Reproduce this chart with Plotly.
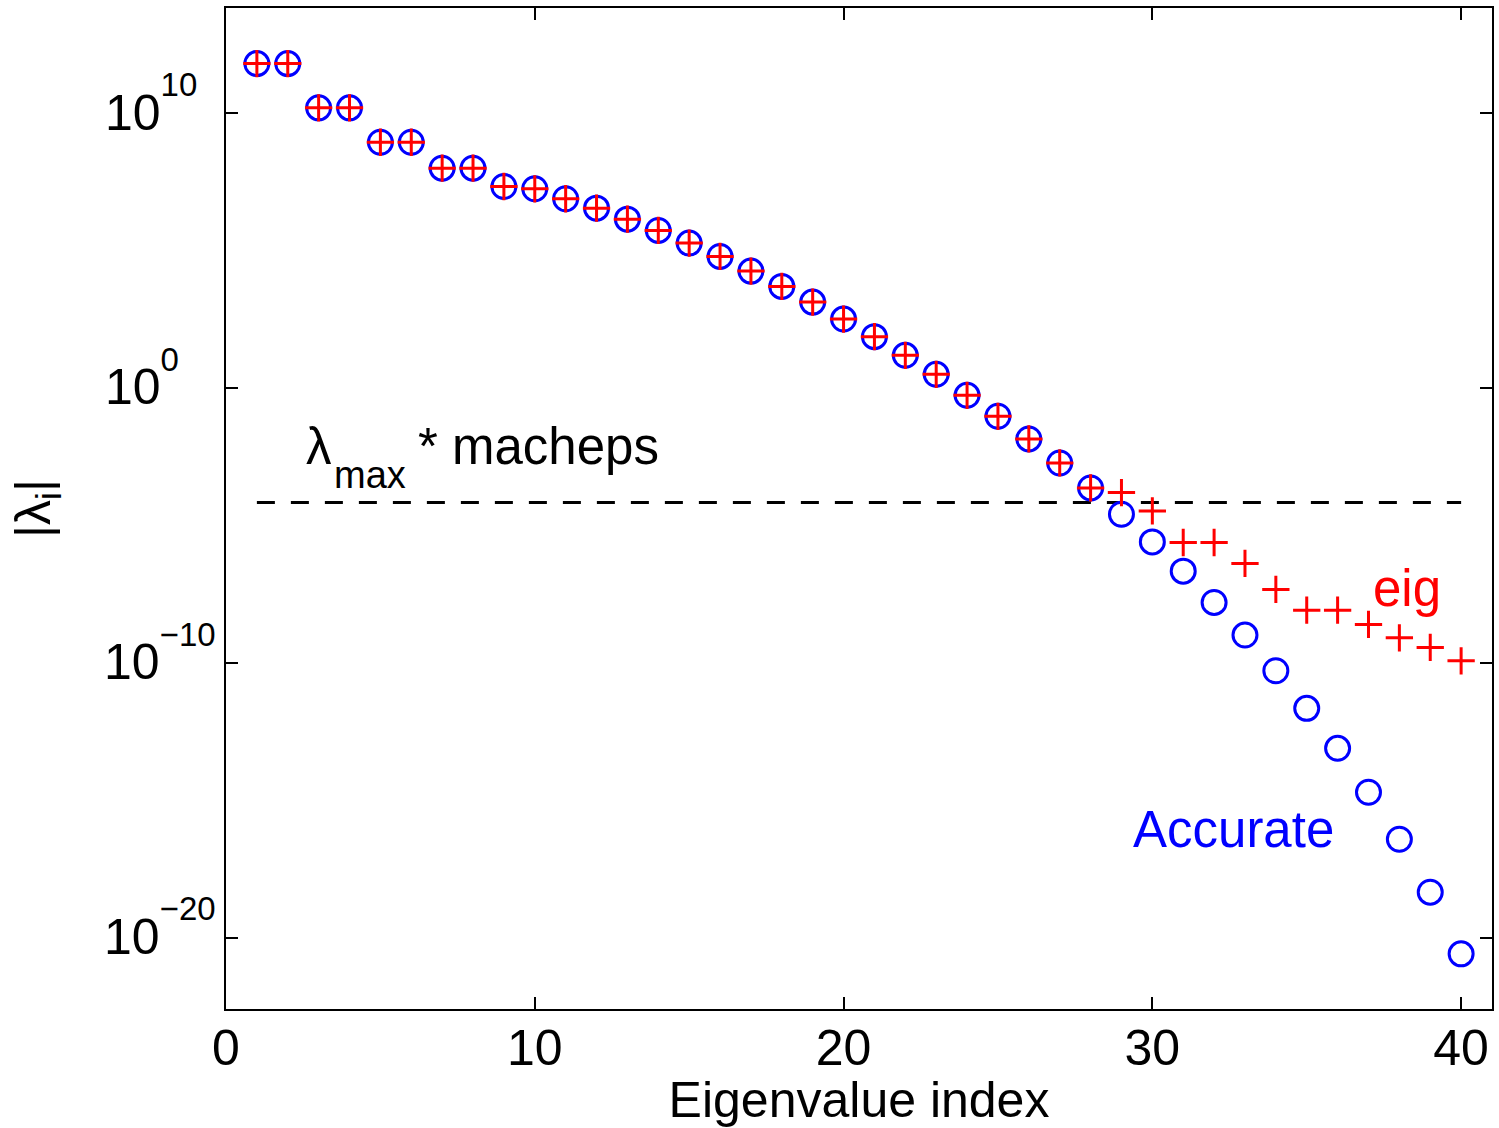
import plotly.graph_objects as go

index = list(range(1, 41))

accurate = [6.41e11, 6.41e11, 1.57e10, 1.57e10, 8.81e8, 8.81e8, 1.0e8, 1.0e8,
            2.16e7, 1.78e7, 7.71e6, 3.51e6, 1.40e6, 5.43e5, 1.88e5, 6.15e4,
            1.80e4, 4.99e3, 1.34e3, 323, 74.0, 15.5, 3.15, 0.543,
            9.35e-2, 1.40e-2, 1.87e-3, 2.31e-4, 2.55e-5, 2.51e-6, 2.16e-7, 1.57e-8,
            1.02e-9, 5.12e-11, 2.20e-12, 7.71e-14, 1.94e-15, 3.78e-17, 4.48e-19, 2.55e-21]

eig = [6.41e11, 6.41e11, 1.57e10, 1.57e10, 8.81e8, 8.81e8, 1.0e8, 1.0e8,
       2.16e7, 1.78e7, 7.71e6, 3.51e6, 1.40e6, 5.43e5, 1.88e5, 6.15e4,
       1.80e4, 4.99e3, 1.34e3, 323, 74.0, 15.5, 3.15, 0.543,
       9.35e-2, 1.40e-2, 1.87e-3, 2.31e-4, 1.57e-4, 3.37e-5, 2.39e-6, 2.39e-6,
       4.12e-7, 4.67e-8, 8.24e-9, 8.24e-9, 2.49e-9, 8.11e-10, 3.63e-10, 1.18e-10]

threshold_x = [1, 40]
threshold_y = [6.81e-5, 6.81e-5]

xtick_vals = [0, 10, 20, 30, 40]
ytick_vals = [1e-20, 1e-10, 1, 1e10]
ytick_exps = ["\u221220", "\u221210", "0", "10"]

FONT = "Liberation Sans, Arial, Helvetica, sans-serif"
FS = 50


def pow_label(e):
    # pad shorter exponents with figure spaces so the "10" bases line up (left-aligned look)
    pad = "\u2007" * (3 - len(e))
    return ("<span style='font-size:50px'>10</span>"
            "<sup><sup><span style='font-size:33px'>" + e + pad + "</span></sup></sup>")


ytick_text = [pow_label(e) for e in ytick_exps]

fig = go.Figure()

fig.add_trace(go.Scatter(
    x=threshold_x, y=threshold_y, mode="lines",
    line=dict(color="black", width=3, dash="18px,16px"),
    showlegend=False, hoverinfo="skip"))

fig.add_trace(go.Scatter(
    x=index, y=accurate, mode="markers", name="Accurate",
    marker=dict(symbol="circle-open", size=24, color="#0000FF",
                line=dict(color="#0000FF", width=3)),
    showlegend=False))

fig.add_trace(go.Scatter(
    x=index, y=eig, mode="markers", name="eig",
    marker=dict(symbol="cross-thin-open", size=19.5, color="#FF0000",
                line=dict(color="#FF0000", width=3)),
    showlegend=False))

# lambda_max * macheps label (subscript drawn lower, as in the original)
fig.add_annotation(x=3.0, y=-2.12, xref="x", yref="y", text="\u03bb",
                   showarrow=False, font=dict(size=51, color="black", family=FONT),
                   xanchor="center", yanchor="middle")
fig.add_annotation(x=4.66, y=-3.16, xref="x", yref="y", text="max",
                   showarrow=False, font=dict(size=38, color="black", family=FONT),
                   xanchor="center", yanchor="middle")
fig.add_annotation(x=6.15, y=-2.12, xref="x", yref="y", text="* macheps",
                   showarrow=False, font=dict(size=51, color="black", family=FONT),
                   xanchor="left", yanchor="middle")

fig.add_annotation(x=38.25, y=-7.28, xref="x", yref="y",
                   text="eig", showarrow=False,
                   font=dict(size=51, color="#FF0000", family=FONT),
                   xanchor="center", yanchor="middle")
fig.add_annotation(x=32.62, y=-16.08, xref="x", yref="y",
                   text="Accurate", showarrow=False,
                   font=dict(size=51, color="#0000FF", family=FONT),
                   xanchor="center", yanchor="middle")

fig.update_layout(
    width=1499, height=1128,
    margin=dict(l=226, r=5, t=8, b=119),
    paper_bgcolor="white", plot_bgcolor="white",
    font=dict(family=FONT, size=FS, color="black"),
)

fig.update_xaxes(
    range=[0, 41], tickvals=xtick_vals, ticks="inside", ticklen=12, tickwidth=1.5,
    tickcolor="black", showline=True, linecolor="black", linewidth=2, mirror="ticks",
    showgrid=False, zeroline=False, tickfont=dict(size=FS), ticklabelstandoff=-6,
    title=dict(text="Eigenvalue index", font=dict(size=FS), standoff=11),
)
fig.update_yaxes(
    type="log", range=[-22.6, 13.83], tickvals=ytick_vals, ticktext=ytick_text,
    ticks="inside", ticklen=12, tickwidth=1.5, tickcolor="black",
    showline=True, linecolor="black", linewidth=2, mirror="ticks",
    showgrid=False, zeroline=False, tickfont=dict(size=47), ticklabelstandoff=-1,
    title=dict(text="|\u03bb<sub>i</sub>|", font=dict(size=FS), standoff=37),
)

fig.write_html("out.html", config={"displayModeBar": False},
               post_script="document.body.style.margin='0px';")
